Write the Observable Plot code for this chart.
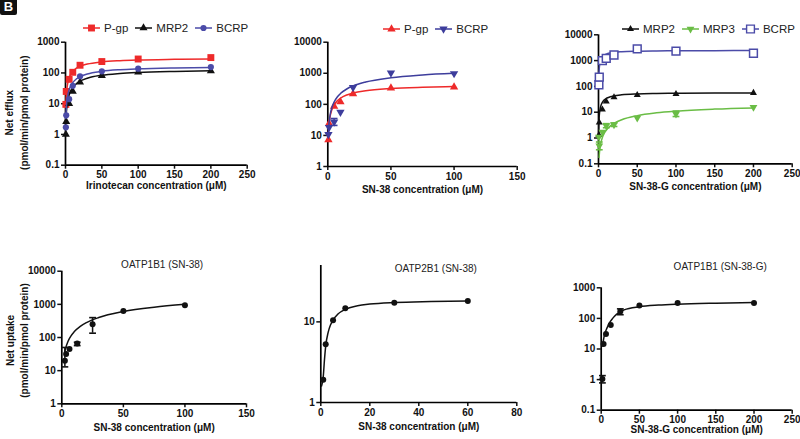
<!DOCTYPE html>
<html><head><meta charset="utf-8">
<script src="https://cdn.jsdelivr.net/npm/d3@7"></script>
<script src="https://cdn.jsdelivr.net/npm/@observablehq/plot@0.6"></script>
<style>
body{margin:0;background:#fff;font-family:"Liberation Sans",Arial,sans-serif;}
#wrap{position:relative;width:800px;height:439px;overflow:hidden;background:#fff;}
#wrap svg.pl{position:absolute;left:0;top:0;}
.legend{position:absolute;display:flex;align-items:center;font-size:11.5px;color:#222;white-space:nowrap;}
.legend .it{display:flex;align-items:center;margin-right:7px;}
.legend svg{margin-right:4px;}
#tag{position:absolute;left:0;top:-3px;width:17px;height:18px;background:#111;color:#fff;font-weight:bold;font-size:13px;line-height:20px;text-align:center;border-radius:2px;}
</style></head>
<body><div id="wrap"><div id="tag">B</div></div>
<script>
// ---------- colours ----------
const RED = "#ee2a2a", BLACK = "#111111", BLUE = "#4b4ba8", NAVY = "#3d3d9c", GREEN = "#6abd45";

// ---------- Panel 1: Irinotecan efflux ----------
const irinoX = [0.5, 1, 5, 10, 20, 50, 100, 200];
const irinoPgp = [9.5, 25, 62, 105, 178, 235, 284, 316];
const irinoMrp2 = [1.0, 2.6, 10, 25, 50, 82, 106, 117];
const irinoBcrp = [1.7, 4.2, 14, 38, 78, 113, 138, 155];
const irinoFitX = [0.5, 1, 2, 3, 5, 7.5, 10, 15, 20, 30, 50, 75, 100, 150, 200];
const irinoPgpFit = [8.6, 16.7, 31.6, 45.1, 68.6, 92.6, 112, 143, 165, 195, 229, 251, 264, 277, 285];
const irinoMrp2Fit = [2.2, 4.35, 8.4, 12.3, 19.3, 27, 33.8, 45, 54, 67.5, 84.4, 96.4, 104, 112.5, 117.4];
const irinoBcrpFit = [3.3, 6.5, 12.6, 18.2, 28.3, 39.2, 48.6, 63.8, 75.6, 92.7, 113, 127.5, 136, 145.7, 151];

// ---------- Panel 2: SN-38 efflux ----------
const sn38X = [0.5, 1, 5, 10, 20, 50, 100];
const sn38Pgp = [7.2, 24, 86, 120, 218, 336, 362];
const sn38Bcrp = [10.8, 18, 27, 56, 350, 1030, 980];
const sn38BcrpErrX = [5], sn38BcrpErrLo = [21], sn38BcrpErrHi = [35];
const sn38FitX = [0.5, 1, 2, 3, 5, 7.5, 10, 15, 20, 30, 50, 75, 100];
const sn38PgpFit = [11.9, 23.2, 44, 62.9, 95.7, 129.4, 157.1, 200, 231.6, 275, 323.5, 354.8, 372.9];
const sn38BcrpFit = [12.75, 25.3, 49.8, 73.6, 119.1, 172.4, 222.1, 312, 391.2, 524.1, 719.9, 885.2, 1000];

// ---------- Panel 3: SN-38-G efflux ----------
const sn38gX = [0.5, 1, 5, 10, 20, 50, 100, 200];
const sn38gMrp2 = [1.3, 4.0, 12.7, 26, 38, 46, 51, 56];
const sn38gMrp3 = [1.1, 0.5, 1.7, 3.0, 3.3, 6.0, 8.6, 15.6];
const sn38gBcrp = [116, 230, 1000, 1230, 1650, 2840, 2310, 1925];
const sn38gMrp3ErrX = [1, 10, 20, 100], sn38gMrp3ErrLo = [0.35, 2.5, 2.8, 6.8], sn38gMrp3ErrHi = [0.7, 3.6, 3.8, 11];
const sn38gFitX = [0.2, 0.5, 1, 2, 3, 5, 7.5, 10, 15, 20, 30, 50, 75, 100, 150, 200];
const sn38gMrp2Fit = [1.61, 3.87, 7.25, 12.9, 17.4, 24.2, 30, 34.1, 39.5, 43, 47, 50.9, 53, 54.2, 55.4, 56];
const sn38gBcrpFit = [119, 278, 500, 833, 1071, 1389, 1630, 1786, 1974, 2083, 2206, 2315, 2373, 2404, 2435, 2451];
const sn38gMrp3FitX = [0.8, 1, 2, 3, 5, 7.5, 10, 15, 20, 30, 50, 75, 100, 150, 200];
const sn38gMrp3Fit = [0.175, 0.218, 0.431, 0.641, 1.048, 1.535, 2.0, 2.87, 3.67, 5.08, 7.33, 9.43, 11, 13.2, 14.67];

// ---------- Panel 4: OATP1B1 (SN-38) uptake ----------
const o1b1SnX = [2.5, 3.5, 6.25, 12.5, 25, 50, 100];
const o1b1SnY = [20, 32, 45, 66, 251, 634, 933];
const o1b1SnErrX = [2.5, 12.5, 25], o1b1SnErrLo = [13, 57, 135], o1b1SnErrHi = [50, 72, 398];
const o1b1SnFitX = [2.5, 3, 5, 7.5, 10, 15, 20, 30, 50, 75, 100];
const o1b1SnFit = [38.5, 46.1, 76, 112.4, 147.9, 216, 280.8, 401, 609.6, 824, 1000];

// ---------- Panel 5: OATP2B1 (SN-38) uptake ----------
const o2b1X = [1, 2, 5, 10, 30, 60];
const o2b1Y = [1.92, 5.26, 10.5, 14.7, 17.3, 18.1];
const o2b1FitX = [0.3, 0.7, 1, 1.5, 2, 3, 4, 5, 7, 10, 15, 20, 30, 45, 60];
const o2b1Fit = [1.6, 1.8, 2.1, 3.4, 5.0, 7.4, 9.2, 10.5, 12.5, 14.3, 15.8, 16.6, 17.4, 17.9, 18.2];

// ---------- Panel 6: OATP1B1 (SN-38-G) uptake ----------
const o1b1GX = [1.56, 3.125, 6.25, 12.5, 25, 50, 100, 200];
const o1b1GY = [1.05, 14.6, 31, 61, 169, 265, 317, 317];
const o1b1GErrX = [1.56, 25], o1b1GErrLo = [0.78, 132], o1b1GErrHi = [1.35, 205];
const o1b1GFitX = [2, 3, 5, 7.5, 10, 15, 20, 25, 30, 50, 75, 100, 150, 200];
const o1b1GFit = [12.5, 20, 33, 48, 66, 100, 135, 165, 190, 240, 272, 292, 315, 330];

// ---------- axis ticks ----------
const ticks250 = [0, 50, 100, 150, 200, 250];
const ticks150 = [0, 50, 100, 150];
const ticks80 = [0, 20, 40, 60, 80];

// ---------- panel layout ----------
const panels = [
  {frame: [65, 246.7, 41.7, 164.7], xDomain: [0, 250], xTicks: ticks250, yDomain: [0.1, 1000], yTicks: [0.1, 1, 10, 100, 1000],
   xLabel: "Irinotecan concentration (μM)", xLabelDy: 23.3,
   yTitle: "Net efflux\n(pmol/min/pmol protein)", yTitleDx: -49.5, yTitleDy: 9,
   legend: {left: 83, top: 22},
   series: [
     {name: "P-gp", color: RED, symbol: "square", r: 3.9, x: irinoX, y: irinoPgp, fitX: irinoFitX, fitY: irinoPgpFit},
     {name: "MRP2", color: BLACK, symbol: "triangle", r: 3, x: irinoX, y: irinoMrp2, fitX: irinoFitX, fitY: irinoMrp2Fit},
     {name: "BCRP", color: BLUE, symbol: "circle", r: 3.1, x: irinoX, y: irinoBcrp, fitX: irinoFitX, fitY: irinoBcrpFit}
   ]},
  {frame: [327.3, 516.7, 41.7, 166], xDomain: [0, 150], xTicks: ticks150, yDomain: [1, 10000], yTicks: [1, 10, 100, 1000, 10000],
   xLabel: "SN-38 concentration (μM)", xLabelDy: 26.3,
   legend: {left: 383, top: 23},
   series: [
     {name: "P-gp", color: RED, symbol: "triangle", r: 3.1, x: sn38X, y: sn38Pgp, fitX: sn38FitX, fitY: sn38PgpFit},
     {name: "BCRP", color: NAVY, symbol: "triangle", rotate: 180, r: 3.1, x: sn38X, y: sn38Bcrp, fitX: sn38FitX, fitY: sn38BcrpFit,
      errX: sn38BcrpErrX, errLo: sn38BcrpErrLo, errHi: sn38BcrpErrHi}
   ]},
  {frame: [598, 791.7, 34.3, 163.3], xDomain: [0, 250], xTicks: ticks250, yDomain: [0.1, 10000], yTicks: [0.1, 1, 10, 100, 1000, 10000],
   xLabel: "SN-38-G concentration (μM)", xLabelDy: 25.7,
   legend: {left: 622, top: 23},
   series: [
     {name: "MRP2", color: BLACK, symbol: "triangle", r: 2.6, x: sn38gX, y: sn38gMrp2, fitX: sn38gFitX, fitY: sn38gMrp2Fit},
     {name: "MRP3", color: GREEN, symbol: "triangle", rotate: 180, r: 2.9, x: sn38gX, y: sn38gMrp3, fitX: sn38gMrp3FitX, fitY: sn38gMrp3Fit,
      errX: sn38gMrp3ErrX, errLo: sn38gMrp3ErrLo, errHi: sn38gMrp3ErrHi},
     {name: "BCRP", color: BLUE, symbol: "square", open: true, r: 4.4, x: sn38gX, y: sn38gBcrp, fitX: sn38gFitX, fitY: sn38gBcrpFit}
   ]},
  {frame: [61.3, 246, 270.7, 403.3], xDomain: [0, 150], xTicks: ticks150, yDomain: [1, 10000], yTicks: [1, 10, 100, 1000, 10000],
   xLabel: "SN-38 concentration (μM)", xLabelDy: 27.4,
   yTitle: "Net uptake\n(pmol/min/pmol protein)", yTitleDx: -45.5, yTitleDy: 3,
   title: "OATP1B1 (SN-38)", titleDx: 8, titleDy: -6.7,
   series: [
     {name: "OATP1B1", color: BLACK, symbol: "circle", r: 3, x: o1b1SnX, y: o1b1SnY, fitX: o1b1SnFitX, fitY: o1b1SnFit,
      errX: o1b1SnErrX, errLo: o1b1SnErrLo, errHi: o1b1SnErrHi}
   ]},
  {frame: [320.3, 516.3, 265, 402], xDomain: [0, 80], xTicks: ticks80, yDomain: [1, 50], yTicks: [1, 10],
   xLabel: "SN-38 concentration (μM)", xLabelDy: 27.3,
   title: "OATP2B1 (SN-38)", titleDx: 17, titleDy: 3,
   series: [
     {name: "OATP2B1", color: BLACK, symbol: "circle", r: 3, x: o2b1X, y: o2b1Y, fitX: o2b1FitX, fitY: o2b1Fit}
   ]},
  {frame: [600.7, 791.7, 287.3, 409.7], xDomain: [0, 250], xTicks: ticks250, yDomain: [0.1, 1000], yTicks: [0.1, 1, 10, 100, 1000],
   xLabel: "SN-38-G concentration (μM)", xLabelDy: 22.6,
   title: "OATP1B1 (SN-38-G)", titleDx: 23.5, titleDy: -20.6,
   series: [
     {name: "OATP1B1", color: BLACK, symbol: "circle", r: 3, x: o1b1GX, y: o1b1GY, fitX: o1b1GFitX, fitY: o1b1GFit,
      errX: o1b1GErrX, errLo: o1b1GErrLo, errHi: o1b1GErrHi}
   ]}
];

const W = 800, H = 439;
const capSymbol = {draw(ctx, size) { const w = Math.sqrt(size / Math.PI); ctx.moveTo(-w, 0); ctx.lineTo(w, 0); }};
const d3sym = {square: d3.symbolSquare, triangle: d3.symbolTriangle, circle: d3.symbolCircle};
const fmt = d => String(d);
const wrap = document.getElementById("wrap");

for (const p of panels) {
  const [L, R, T, B] = p.frame;
  const marks = [
    Plot.axisX({ticks: p.xTicks, tickSize: 4, tickPadding: 2, strokeWidth: 1.5, label: null, tickFormat: fmt}),
    Plot.axisY({ticks: p.yTicks, tickSize: 4, tickPadding: 2, strokeWidth: 1.5, label: null, tickFormat: fmt}),
    Plot.ruleX([p.xDomain[0]], {stroke: "#000", strokeWidth: 1.7}),
    Plot.ruleY([p.yDomain[0]], {stroke: "#000", strokeWidth: 1.7}),
    Plot.text([p.xLabel], {frameAnchor: "bottom", dy: p.xLabelDy, text: d => d, textAnchor: "middle",
      fontWeight: "bold", fontSize: 10, fill: "#111"})
  ];
  if (p.yTitle) marks.push(Plot.text([p.yTitle], {frameAnchor: "left", dx: p.yTitleDx, dy: p.yTitleDy, rotate: -90, text: d => d,
    textAnchor: "middle", lineAnchor: "middle", fontWeight: "bold", fontSize: 10, lineHeight: 1.45, fill: "#111"}));
  if (p.title) marks.push(Plot.text([p.title], {frameAnchor: "top", dx: p.titleDx, dy: p.titleDy, text: d => d,
    textAnchor: "middle", lineAnchor: "middle", fontWeight: "normal", fontSize: 10, fill: "#222"}));
  for (const s of p.series) {
    const fit = s.fitX.map((x, i) => ({x, y: s.fitY[i]}));
    marks.push(Plot.line(fit, {x: "x", y: "y", stroke: s.color, strokeWidth: 1.5, curve: "monotone-x"}));
    if (s.errX) {
      const err = s.errX.map((x, i) => ({x, lo: s.errLo[i], hi: s.errHi[i]}));
      marks.push(Plot.ruleX(err, {x: "x", y1: "lo", y2: "hi", stroke: s.color, strokeWidth: 1.5}));
      const caps = err.flatMap(d => [{x: d.x, y: d.lo}, {x: d.x, y: d.hi}]);
      marks.push(Plot.dot(caps, {x: "x", y: "y", symbol: capSymbol, r: 3.4, stroke: s.color, strokeWidth: 1.6, fill: "none"}));
    }
    const pts = s.x.map((x, i) => ({x, y: s.y[i]}));
    marks.push(Plot.dot(pts, {x: "x", y: "y", symbol: s.symbol, r: s.r, rotate: s.rotate || 0,
      fill: s.open ? "white" : s.color, stroke: s.open ? s.color : "none", strokeWidth: s.open ? 1.5 : 0}));
  }
  const svg = Plot.plot({
    width: W, height: H,
    marginLeft: L, marginRight: W - R, marginTop: T, marginBottom: H - B,
    x: {type: "linear", domain: p.xDomain},
    y: {type: "log", domain: p.yDomain},
    style: {background: "transparent", fontFamily: "'Liberation Sans', Arial, sans-serif", fontSize: "10px",
            fontWeight: "bold", color: "#111", overflow: "visible"},
    marks
  });
  svg.classList.add("pl");
  wrap.appendChild(svg);

  if (p.legend) {
    const lg = document.createElement("div");
    lg.className = "legend";
    lg.style.left = p.legend.left + "px";
    lg.style.top = p.legend.top + "px";
    for (const s of p.series) {
      const it = document.createElement("div");
      it.className = "it";
      const size = Math.PI * s.r * s.r;
      const path = d3.symbol(d3sym[s.symbol], size)();
      it.innerHTML = `<svg width="17" height="12"><line x1="0" y1="6" x2="17" y2="6" stroke="${s.color}" stroke-width="1.5"/>` +
        `<path d="${path}" transform="translate(8.5,6) rotate(${s.rotate || 0})" fill="${s.open ? "white" : s.color}" ` +
        `stroke="${s.open ? s.color : "none"}" stroke-width="1.4"/></svg><span>${s.name}</span>`;
      lg.appendChild(it);
    }
    wrap.appendChild(lg);
  }
}
</script>
</body></html>
